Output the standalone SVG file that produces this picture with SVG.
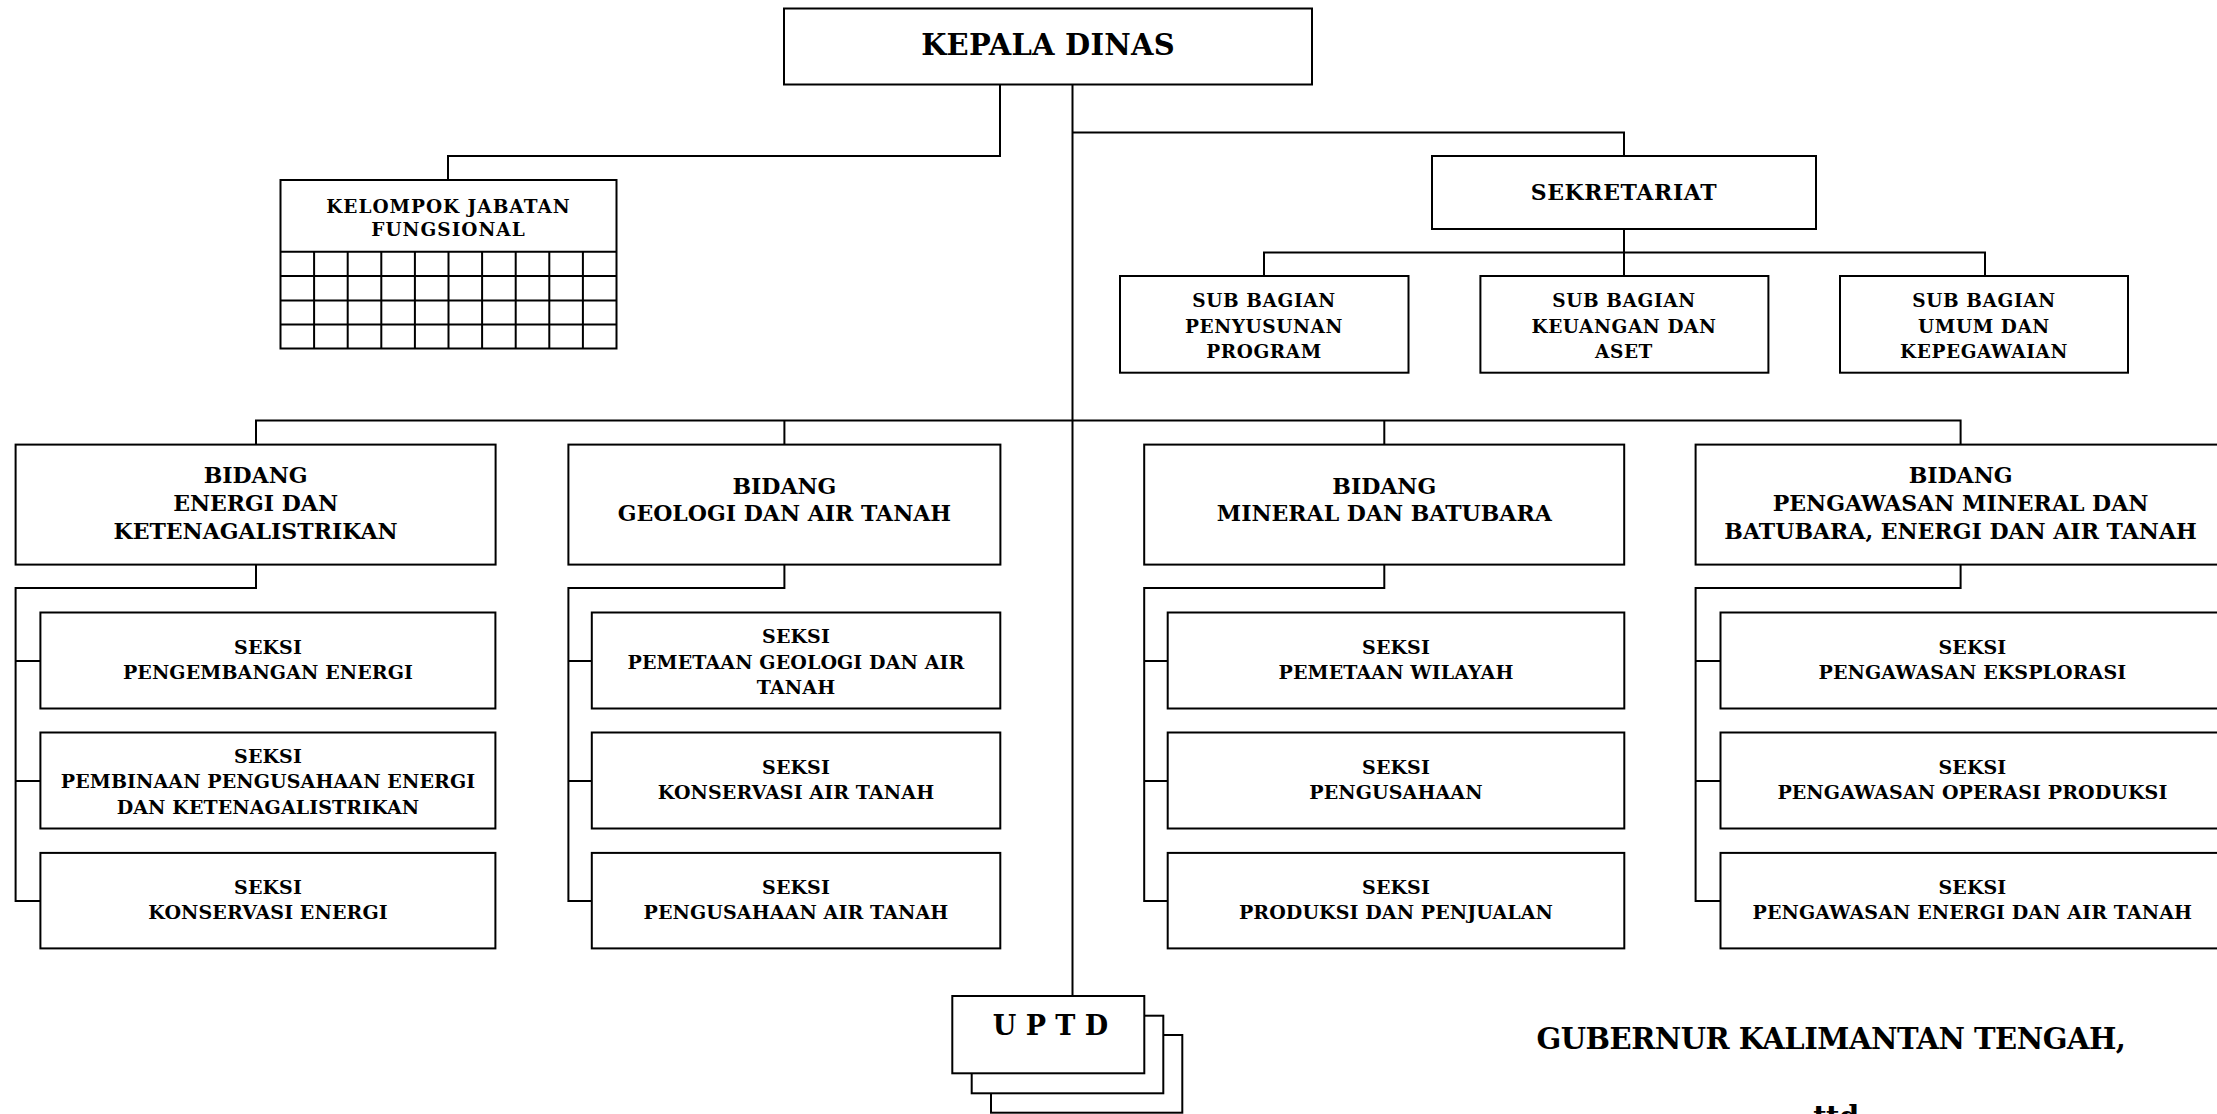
<svg xmlns="http://www.w3.org/2000/svg" width="2217" height="1114" viewBox="0 0 2217 1114">
<style>
rect.box{fill:#fff;stroke:#000;stroke-width:2}
.ln{fill:none;stroke:#000;stroke-width:2}
text{font-family:"DejaVu Serif","Liberation Serif",serif;font-weight:bold;fill:#000;text-anchor:middle}
.head{font-size:29px;letter-spacing:0.2px}
.sek{font-size:22px;letter-spacing:0.6px}
.sub{font-size:18.5px;letter-spacing:0.6px}
.bid{font-size:22px;letter-spacing:0px}
.sks{font-size:19px;letter-spacing:0.1px}
.gub{font-size:29px;letter-spacing:-0.5px}
.uptd{font-size:27px}
</style>
<rect width="2217" height="1114" fill="#fff"/>
<g id="connectors" class="ln">
<path d="M1072.5 84.5V996"/>
<path d="M1000 84.5V156H448V180"/>
<path d="M1072.5 132.5H1624V156"/>
<path d="M1624 229V252.5M1264 276V252.5H1985V276M1624 252.5V276"/>
<path d="M256 444.6V420.5H1960.6V444.6M784.4 420.5V444.6M1384.3 420.5V444.6"/>
<path d="M256 564.6V588H15.6V901H40.4M15.6 661H40.4M15.6 781H40.4"/>
<path d="M784.4 564.6V588H568.4V901H591.8M568.4 661H591.8M568.4 781H591.8"/>
<path d="M1384.3 564.6V588H1144.2V901H1167.7M1144.2 661H1167.7M1144.2 781H1167.7"/>
<path d="M1960.6 564.6V588H1695.6V901H1720.5M1695.6 661H1720.5M1695.6 781H1720.5"/>
</g>
<g id="kepala-dinas"><rect class="box" x="784" y="8.5" width="528" height="76"/><text class="head" x="1048" y="55">KEPALA DINAS</text></g>
<g id="kelompok-jabatan-fungsional">
<rect class="box" x="280.5" y="180" width="336" height="168.5"/>
<path class="ln" d="M280.5 251.7H616.5M280.5 276H616.5M280.5 300.5H616.5M280.5 324.5H616.5M314.1 251.7V348.5M347.7 251.7V348.5M381.3 251.7V348.5M414.9 251.7V348.5M448.5 251.7V348.5M482.1 251.7V348.5M515.7 251.7V348.5M549.3 251.7V348.5M582.9 251.7V348.5"/>
<text class="sub" x="448.5" y="212.5" style="letter-spacing:1px">KELOMPOK JABATAN</text><text class="sub" x="448.5" y="236" style="letter-spacing:1px">FUNGSIONAL</text>
</g>
<g id="sekretariat"><rect class="box" x="1432" y="156" width="384" height="73"/><text class="sek" x="1624" y="200">SEKRETARIAT</text></g>
<g id="sub-bagian-penyusunan-program"><rect class="box" x="1120" y="276" width="288.5" height="96.7"/><text class="sub" x="1264" y="307">SUB BAGIAN</text><text class="sub" x="1264" y="332.5">PENYUSUNAN</text><text class="sub" x="1264" y="357.5">PROGRAM</text></g>
<g id="sub-bagian-keuangan-dan-aset"><rect class="box" x="1480.4" y="276" width="288" height="96.7"/><text class="sub" x="1624" y="307">SUB BAGIAN</text><text class="sub" x="1624" y="332.5">KEUANGAN DAN</text><text class="sub" x="1624" y="357.5">ASET</text></g>
<g id="sub-bagian-umum-dan-kepegawaian"><rect class="box" x="1840" y="276" width="288" height="96.7"/><text class="sub" x="1984" y="307">SUB BAGIAN</text><text class="sub" x="1984" y="332.5">UMUM DAN</text><text class="sub" x="1984" y="357.5">KEPEGAWAIAN</text></g>
<g id="bidang-energi"><rect class="box" x="15.6" y="444.6" width="480" height="120"/><text class="bid" x="255.6" y="483">BIDANG</text><text class="bid" x="255.6" y="511">ENERGI DAN</text><text class="bid" x="255.6" y="538.5">KETENAGALISTRIKAN</text></g>
<g id="bidang-geologi"><rect class="box" x="568.4" y="444.6" width="432" height="120"/><text class="bid" x="784.4" y="494">BIDANG</text><text class="bid" x="784.4" y="521">GEOLOGI DAN AIR TANAH</text></g>
<g id="bidang-mineral"><rect class="box" x="1144.2" y="444.6" width="480" height="120"/><text class="bid" x="1384.3" y="494">BIDANG</text><text class="bid" x="1384.3" y="521">MINERAL DAN BATUBARA</text></g>
<g id="bidang-pengawasan"><rect class="box" x="1695.6" y="444.6" width="530" height="120"/><text class="bid" x="1960.6" y="483">BIDANG</text><text class="bid" x="1960.6" y="511">PENGAWASAN MINERAL DAN</text><text class="bid" x="1960.6" y="538.5">BATUBARA, ENERGI DAN AIR TANAH</text></g>
<g id="seksi-pengembangan-energi"><rect class="box" x="40.4" y="612.5" width="455" height="96"/><text class="sks" x="268" y="654">SEKSI</text><text class="sks" x="268" y="678.6">PENGEMBANGAN ENERGI</text></g>
<g id="seksi-pembinaan"><rect class="box" x="40.4" y="732.5" width="455" height="96"/><text class="sks" x="268" y="763">SEKSI</text><text class="sks" x="268" y="788">PEMBINAAN PENGUSAHAAN ENERGI</text><text class="sks" x="268" y="813.5">DAN KETENAGALISTRIKAN</text></g>
<g id="seksi-konservasi-energi"><rect class="box" x="40.4" y="852.9" width="455" height="95.5"/><text class="sks" x="268" y="894">SEKSI</text><text class="sks" x="268" y="919">KONSERVASI ENERGI</text></g>
<g id="seksi-pemetaan-geologi"><rect class="box" x="591.8" y="612.5" width="408.5" height="96"/><text class="sks" x="796" y="643">SEKSI</text><text class="sks" x="796" y="669">PEMETAAN GEOLOGI DAN AIR</text><text class="sks" x="796" y="694">TANAH</text></g>
<g id="seksi-konservasi-air-tanah"><rect class="box" x="591.8" y="732.5" width="408.5" height="96"/><text class="sks" x="796" y="773.6">SEKSI</text><text class="sks" x="796" y="798.6">KONSERVASI AIR TANAH</text></g>
<g id="seksi-pengusahaan-air-tanah"><rect class="box" x="591.8" y="852.9" width="408.5" height="95.5"/><text class="sks" x="796" y="894">SEKSI</text><text class="sks" x="796" y="919">PENGUSAHAAN AIR TANAH</text></g>
<g id="seksi-pemetaan-wilayah"><rect class="box" x="1167.7" y="612.5" width="456.6" height="96"/><text class="sks" x="1396" y="654">SEKSI</text><text class="sks" x="1396" y="678.6">PEMETAAN WILAYAH</text></g>
<g id="seksi-pengusahaan"><rect class="box" x="1167.7" y="732.5" width="456.6" height="96"/><text class="sks" x="1396" y="773.6">SEKSI</text><text class="sks" x="1396" y="798.6">PENGUSAHAAN</text></g>
<g id="seksi-produksi"><rect class="box" x="1167.7" y="852.9" width="456.6" height="95.5"/><text class="sks" x="1396" y="894">SEKSI</text><text class="sks" x="1396" y="919">PRODUKSI DAN PENJUALAN</text></g>
<g id="seksi-pengawasan-eksplorasi"><rect class="box" x="1720.5" y="612.5" width="504" height="96"/><text class="sks" x="1972.4" y="654">SEKSI</text><text class="sks" x="1972.4" y="678.6">PENGAWASAN EKSPLORASI</text></g>
<g id="seksi-pengawasan-operasi"><rect class="box" x="1720.5" y="732.5" width="504" height="96"/><text class="sks" x="1972.4" y="773.6">SEKSI</text><text class="sks" x="1972.4" y="798.6">PENGAWASAN OPERASI PRODUKSI</text></g>
<g id="seksi-pengawasan-energi"><rect class="box" x="1720.5" y="852.9" width="504" height="95.5"/><text class="sks" x="1972.4" y="894">SEKSI</text><text class="sks" x="1972.4" y="919">PENGAWASAN ENERGI DAN AIR TANAH</text></g>
<g id="uptd">
<rect class="box" x="991" y="1035" width="191.3" height="77.7"/>
<rect class="box" x="971.7" y="1015.7" width="191.6" height="77.6"/>
<rect class="box" x="952.3" y="996" width="192" height="77.3"/>
<text class="uptd" x="1050.5" y="1035">U P T D</text>
</g>
<g id="signature">
<text class="gub" x="1831" y="1049">GUBERNUR KALIMANTAN TENGAH,</text>
<text class="gub" x="1836" y="1127">ttd</text>
</g>
</svg>
